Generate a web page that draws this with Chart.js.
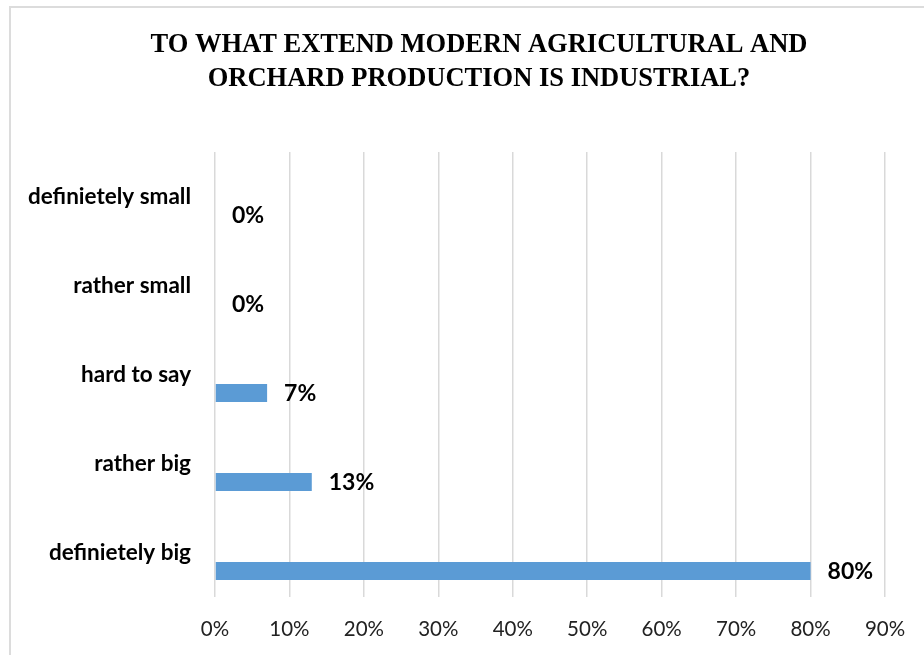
<!DOCTYPE html>
<html lang="en">
<head>
<meta charset="UTF-8">
<title>Modern agricultural and orchard production</title>
<script src="https://cdn.jsdelivr.net/npm/chart.js"></script>
<style>
  html, body { margin: 0; padding: 0; background: #fff; overflow: hidden; }
  .chart-box { position: relative; width: 938px; height: 655px; }
  .frame { position: absolute; left: 9px; top: 6px; width: 1000px; height: 1000px;
           border-left: 2px solid #dcdcdc; border-top: 2px solid #dcdcdc; pointer-events: none; }
</style>
</head>
<body>
<div class="chart-box">
  <canvas id="barChart"></canvas>
  <div class="frame"></div>
</div>
<script>
// answers, top to bottom
const answers = ["definietely small", "rather small", "hard to say", "rather big", "definietely big"];
const shares = [0, 0, 7, 13, 80];
// Excel left an empty first series, which pushes the real bars below the labels
const emptySeries = [null, null, null, null, null];
const xTicks = [0, 10, 20, 30, 40, 50, 60, 70, 80, 90];

const valueLabels = {
  id: "valueLabels",
  afterDatasetsDraw(chart) {
    const ctx = chart.ctx;
    const meta = chart.getDatasetMeta(1);
    ctx.save();
    ctx.font = "bold 23px Lato";
    ctx.fillStyle = "#000";
    ctx.textAlign = "left";
    ctx.textBaseline = "middle";
    meta.data.forEach((bar, i) => {
      ctx.fillText(shares[i] + "%", bar.x + 17, bar.y + 1);
    });
    ctx.restore();
  }
};

const ctx = document.getElementById("barChart").getContext("2d");
const barChart = new Chart(ctx, {
  type: "bar",
  data: {
    labels: answers,
    datasets: [
      { label: "", data: emptySeries, backgroundColor: "#5b9bd5" },
      { label: "share", data: shares, backgroundColor: "#5b9bd5", yAxisID: "y" }
    ]
  },
  options: {
    indexAxis: "y",
    responsive: true,
    maintainAspectRatio: false,
    animation: false,
    categoryPercentage: 0.83,
    barPercentage: 0.49,
    layout: { padding: { left: 20, right: 0, top: 29, bottom: 15 } },
    plugins: {
      legend: { display: false },
      tooltip: { enabled: false },
      title: {
        display: true,
        text: ["TO WHAT EXTEND MODERN AGRICULTURAL AND", "ORCHARD PRODUCTION IS INDUSTRIAL?"],
        color: "#000",
        font: { family: "'Liberation Serif', 'Times New Roman', serif", size: 26.5, weight: "bold", lineHeight: 1.25 },
        padding: { top: 0, bottom: 56.75 }
      }
    },
    scales: {
      x: {
        min: 0,
        max: 90,
        afterBuildTicks: s => { s.ticks = xTicks.map(v => ({ value: v })); },
        afterFit: s => { s.height = 43; },
        ticks: {
          callback: v => v + "%",
          color: "#222",
          font: { family: "Lato", size: 20.5 },
          padding: 20,
          maxRotation: 0
        },
        grid: { color: "#d9d9d9", lineWidth: 1.5, drawTicks: false },
        border: { display: false }
      },
      y: {
        afterFit: s => { s.width = 195; },
        ticks: {
          color: "#000",
          font: { family: "Lato", size: 22.5, weight: "bold" },
          padding: 24
        },
        grid: { display: false, drawTicks: false },
        border: { display: false }
      },
      // empty strip on the right, room for the 90% label as in the original
      yRight: {
        type: "category",
        position: "right",
        afterFit: s => { s.width = 53; },
        ticks: { display: false },
        grid: { display: false, drawTicks: false },
        border: { display: false }
      }
    }
  },
  plugins: [valueLabels]
});
</script>
</body>
</html>
